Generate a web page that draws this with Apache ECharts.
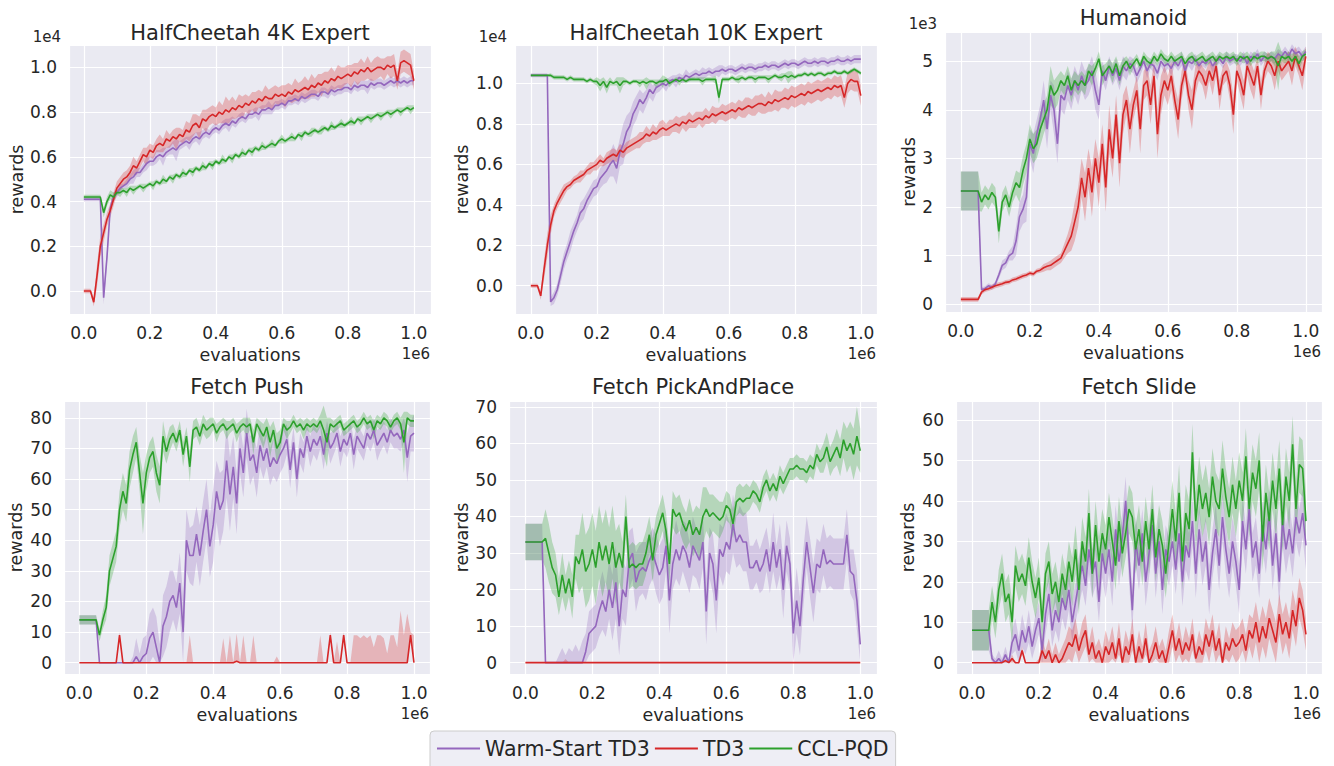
<!DOCTYPE html>
<html>
<head>
<meta charset="utf-8">
<title>Warm-Start TD3 / TD3 / CCL-PQD</title>
<script src="https://cdn.jsdelivr.net/npm/echarts@6.0.0/dist/echarts.min.js"></script>
<style>
  html, body { margin: 0; padding: 0; background: #fff; }
  #chart { width: 1334px; height: 766px; }
</style>
</head>
<body>
<div id="chart"></div>
<script>
// evaluation steps, in units of 1e6
var evals = [
  0, .01, .02, .03, .04, .05, .06, .07, .08, .09,
  .10, .11, .12, .13, .14, .15, .16, .17, .18, .19,
  .20, .21, .22, .23, .24, .25, .26, .27, .28, .29,
  .30, .31, .32, .33, .34, .35, .36, .37, .38, .39,
  .40, .41, .42, .43, .44, .45, .46, .47, .48, .49,
  .50, .51, .52, .53, .54, .55, .56, .57, .58, .59,
  .60, .61, .62, .63, .64, .65, .66, .67, .68, .69,
  .70, .71, .72, .73, .74, .75, .76, .77, .78, .79,
  .80, .81, .82, .83, .84, .85, .86, .87, .88, .89,
  .90, .91, .92, .93, .94, .95, .96, .97, .98, .99,
  1.0
];

// HalfCheetah 4K Expert (x 1e4) - mean and half band width
var hc4Warm = [
  .41,.41,.41,.41,.41,.41,-.03,.15,.37,.42,
  .44,.46,.47,.48,.50,.51,.53,.53,.55,.57,
  .58,.58,.60,.61,.60,.62,.63,.64,.63,.65,
  .66,.67,.66,.68,.69,.68,.70,.71,.70,.72,
  .73,.72,.74,.75,.74,.76,.75,.77,.78,.77,
  .79,.79,.80,.79,.81,.81,.82,.81,.83,.83,
  .84,.83,.85,.85,.86,.85,.87,.86,.87,.88,
  .88,.87,.89,.89,.88,.90,.89,.90,.90,.91,
  .91,.90,.92,.91,.92,.92,.91,.93,.92,.93,
  .93,.92,.93,.94,.93,.94,.93,.94,.93,.94,
  .94];
var hc4WarmSd = [
  .01,.01,.01,.01,.01,.01,.03,.03,.02,.02,
  .02,.02,.01,.02,.02,.03,.02,.02,.02,.03,
  .02,.02,.03,.02,.04,.02,.02,.03,.05,.02,
  .02,.02,.03,.02,.02,.03,.02,.02,.02,.02,
  .02,.02,.02,.02,.03,.02,.02,.02,.02,.02,
  .02,.02,.02,.03,.02,.02,.03,.02,.02,.02,
  .02,.02,.02,.02,.02,.02,.02,.02,.02,.02,
  .02,.02,.02,.02,.02,.02,.02,.02,.02,.02,
  .02,.02,.02,.02,.02,.02,.03,.02,.02,.02,
  .02,.02,.02,.02,.02,.02,.02,.02,.02,.02,
  .02];
var hc4Td3 = [
  0,0,0,-.05,.07,.20,.26,.32,.36,.41,
  .46,.48,.50,.51,.53,.56,.55,.58,.61,.60,
  .63,.62,.65,.66,.65,.68,.67,.69,.68,.70,
  .69,.72,.71,.74,.75,.73,.77,.76,.78,.79,
  .78,.80,.79,.81,.80,.82,.81,.83,.82,.84,
  .83,.85,.84,.86,.85,.87,.86,.86,.88,.87,
  .88,.87,.89,.88,.90,.89,.90,.91,.90,.92,
  .91,.93,.92,.94,.93,.95,.94,.96,.95,.96,
  .97,.96,.98,.97,.99,.98,1.0,.98,.99,1.0,
  1.0,.99,1.01,1.0,1.01,.94,1.02,1.03,1.02,1.01,
  .94];
var hc4Td3Sd = [
  .01,.01,.01,.02,.05,.05,.04,.03,.03,.03,
  .03,.03,.03,.03,.03,.04,.03,.03,.03,.04,
  .03,.03,.03,.04,.03,.04,.03,.03,.05,.03,
  .03,.04,.04,.05,.04,.05,.04,.05,.04,.04,
  .04,.05,.04,.06,.05,.05,.04,.05,.05,.04,
  .04,.04,.05,.04,.04,.05,.04,.05,.04,.04,
  .04,.05,.04,.04,.05,.04,.04,.05,.04,.05,
  .04,.04,.05,.04,.05,.05,.04,.05,.05,.04,
  .04,.05,.04,.05,.05,.04,.05,.04,.05,.05,
  .04,.05,.04,.05,.05,.04,.05,.05,.05,.05,
  .04];
var hc4Ccl = [
  .42,.42,.42,.42,.42,.42,.35,.40,.43,.42,
  .44,.44,.45,.44,.46,.45,.46,.47,.46,.47,
  .48,.47,.49,.48,.50,.49,.51,.50,.52,.51,
  .53,.52,.54,.53,.55,.54,.56,.55,.57,.56,
  .58,.57,.59,.58,.60,.59,.61,.60,.62,.61,
  .63,.62,.64,.63,.65,.64,.65,.66,.65,.67,
  .68,.67,.68,.69,.68,.70,.69,.71,.70,.71,
  .72,.71,.72,.73,.72,.74,.73,.74,.75,.74,
  .75,.76,.75,.77,.76,.77,.78,.77,.78,.79,
  .78,.79,.80,.79,.80,.81,.80,.81,.82,.81,
  .82];
var hc4CclSd = [
  .01,.01,.01,.01,.01,.01,.02,.02,.02,.02,
  .01,.02,.01,.02,.01,.02,.01,.01,.02,.01,
  .01,.02,.01,.01,.02,.01,.01,.02,.01,.01,
  .02,.01,.01,.02,.01,.01,.02,.01,.01,.02,
  .01,.01,.02,.01,.01,.02,.01,.01,.02,.01,
  .01,.02,.01,.01,.02,.01,.01,.02,.01,.01,
  .02,.01,.01,.02,.01,.01,.02,.01,.01,.02,
  .01,.01,.02,.01,.01,.02,.01,.01,.02,.01,
  .01,.02,.01,.01,.02,.01,.01,.02,.01,.01,
  .02,.01,.01,.02,.01,.01,.02,.01,.01,.02,
  .01];

// HalfCheetah 10K Expert (x 1e4)
var hc10Warm = [
  1.04,1.04,1.04,1.04,1.04,1.04,-.08,-.06,-.02,.05,
  .12,.17,.22,.27,.31,.36,.38,.42,.45,.48,
  .49,.53,.55,.57,.60,.62,.58,.66,.70,.76,
  .79,.85,.88,.92,.90,.93,.97,.95,.98,.99,
  1.0,.99,1.01,1.02,1.01,1.03,1.02,1.04,1.03,1.04,
  1.05,1.04,1.05,1.05,1.06,1.05,1.06,1.06,1.07,1.06,
  1.07,1.07,1.06,1.07,1.08,1.07,1.08,1.08,1.07,1.08,
  1.08,1.09,1.08,1.09,1.09,1.08,1.09,1.10,1.09,1.10,
  1.10,1.09,1.10,1.11,1.10,1.10,1.11,1.10,1.11,1.11,
  1.10,1.11,1.11,1.12,1.11,1.11,1.12,1.11,1.12,1.12,
  1.12];
var hc10WarmSd = [
  .01,.01,.01,.01,.01,.01,.02,.03,.03,.04,
  .04,.04,.05,.04,.04,.05,.05,.04,.04,.04,
  .04,.05,.05,.06,.06,.08,.08,.07,.10,.08,
  .07,.06,.06,.05,.05,.04,.04,.04,.03,.03,
  .02,.03,.02,.02,.03,.02,.02,.03,.02,.02,
  .02,.02,.03,.02,.02,.02,.02,.03,.02,.02,
  .02,.02,.02,.02,.02,.02,.02,.02,.02,.02,
  .02,.02,.02,.02,.02,.02,.02,.02,.02,.02,
  .02,.02,.02,.02,.02,.02,.02,.02,.02,.02,
  .02,.02,.02,.02,.02,.02,.02,.02,.02,.02,
  .02];
var hc10Td3 = [
  0,0,0,-.05,.08,.20,.30,.37,.41,.44,
  .47,.49,.50,.52,.53,.54,.55,.57,.58,.59,
  .60,.62,.61,.63,.64,.65,.64,.67,.66,.68,
  .69,.70,.71,.72,.73,.75,.74,.76,.75,.77,
  .78,.77,.78,.79,.80,.79,.81,.80,.82,.81,
  .82,.83,.82,.84,.83,.85,.84,.85,.86,.85,
  .86,.87,.86,.88,.87,.88,.89,.88,.89,.90,
  .90,.89,.91,.90,.92,.91,.92,.93,.92,.94,
  .93,.94,.95,.94,.96,.95,.96,.97,.96,.97,
  .98,.97,.99,.98,.99,.93,1.0,1.02,1.01,1.01,
  .94];
var hc10Td3Sd = [
  .01,.01,.01,.02,.05,.06,.05,.03,.03,.03,
  .03,.02,.02,.02,.02,.03,.02,.02,.03,.02,
  .03,.03,.02,.03,.03,.03,.03,.03,.03,.03,
  .03,.03,.03,.04,.03,.04,.03,.04,.03,.04,
  .04,.03,.04,.03,.04,.04,.03,.04,.04,.03,
  .04,.03,.04,.04,.03,.04,.04,.03,.04,.04,
  .04,.04,.04,.04,.04,.05,.04,.04,.05,.04,
  .05,.04,.05,.04,.05,.05,.04,.05,.05,.05,
  .05,.05,.05,.05,.05,.05,.05,.05,.05,.05,
  .05,.05,.05,.05,.05,.05,.05,.05,.05,.05,
  .05];
var hc10Ccl = [
  1.04,1.04,1.04,1.04,1.04,1.04,1.04,1.03,1.03,1.03,
  1.03,1.02,1.03,1.02,1.02,1.02,1.02,1.01,1.02,1.01,
  1.01,.99,1.01,.98,1.01,1.0,1.01,.99,1.01,1.01,
  1.0,1.01,1.01,1.0,1.01,1.0,1.01,1.01,1.0,1.01,
  1.01,1.02,1.0,1.01,1.02,1.01,1.02,1.01,1.02,1.02,
  1.02,1.02,1.01,1.02,1.02,1.02,1.02,.93,1.02,1.02,
  1.02,1.03,1.02,1.02,1.03,1.02,1.03,1.03,1.02,1.03,
  1.03,1.03,1.02,1.03,1.04,1.03,1.03,1.04,1.03,1.04,
  1.03,1.04,1.04,1.05,1.04,1.05,1.04,1.05,1.05,1.04,
  1.05,1.05,1.06,1.05,1.05,1.06,1.05,1.06,1.07,1.06,
  1.05];
var hc10CclSd = [
  .005,.005,.005,.005,.005,.005,.01,.01,.01,.01,
  .01,.01,.01,.01,.01,.01,.01,.01,.01,.01,
  .02,.03,.02,.03,.02,.01,.02,.04,.02,.01,
  .01,.01,.01,.02,.01,.03,.01,.01,.02,.01,
  .03,.01,.02,.01,.01,.02,.01,.01,.01,.01,
  .01,.01,.02,.01,.01,.01,.02,.03,.01,.01,
  .01,.01,.01,.02,.01,.01,.01,.01,.02,.01,
  .01,.01,.02,.01,.01,.01,.02,.01,.03,.02,
  .01,.01,.01,.01,.01,.01,.01,.01,.01,.01,
  .01,.01,.01,.01,.01,.01,.01,.01,.01,.01,
  .01];

// Humanoid (x 1e3)
var humWarm = [
  2.33,2.33,2.33,2.33,2.33,2.33,.30,.32,.38,.35,
  .42,.60,.80,.85,1.0,1.05,1.3,1.8,1.95,2.2,
  3.3,3.1,3.5,3.8,4.2,3.6,4.3,4.0,3.3,4.3,
  4.2,4.5,4.3,4.6,4.4,4.7,4.5,4.6,4.8,4.4,
  4.1,4.8,4.6,4.9,4.7,4.85,4.6,4.9,4.8,4.95,
  4.9,4.7,4.85,5.0,4.8,4.95,4.9,4.75,5.0,4.9,
  4.95,4.85,5.0,4.9,5.05,4.8,5.0,4.95,5.05,4.9,
  5.0,4.95,5.05,4.9,5.0,5.05,4.95,5.1,5.0,5.05,
  5.05,5.0,5.1,4.95,5.1,5.05,5.15,5.0,5.1,5.05,
  5.1,5.05,5.15,5.1,5.2,5.1,5.25,5.15,5.2,5.1,
  5.2];
var humWarmSd = [
  .4,.4,.4,.4,.4,.4,.05,.05,.05,.05,
  .05,.08,.1,.1,.1,.15,.3,.3,.3,.5,
  .3,.4,.3,.3,.4,.4,.3,.5,.4,.3,
  .3,.3,.3,.3,.3,.3,.3,.3,.3,.4,
  .3,.2,.2,.2,.2,.2,.2,.2,.2,.15,
  .15,.15,.15,.1,.15,.1,.15,.15,.1,.15,
  .1,.15,.1,.1,.15,.1,.1,.15,.1,.1,
  .1,.1,.1,.15,.1,.1,.1,.1,.1,.1,
  .1,.1,.1,.1,.1,.1,.1,.1,.1,.1,
  .1,.1,.1,.1,.1,.1,.1,.1,.1,.1,
  .1];
var humTd3 = [
  .10,.10,.10,.10,.10,.10,.25,.30,.32,.35,
  .38,.40,.42,.45,.46,.50,.52,.55,.58,.60,
  .64,.62,.68,.70,.75,.78,.80,.85,.90,.95,
  1.1,1.25,1.4,1.7,2.0,2.6,2.2,2.8,2.3,3.0,
  2.5,3.3,2.4,3.6,3.0,3.9,2.9,3.9,4.2,3.6,
  4.1,4.4,3.6,4.5,4.6,4.1,4.7,3.5,4.3,4.6,
  4.4,4.7,4.2,3.8,4.5,4.8,4.3,4.0,4.6,4.8,
  4.7,4.5,4.8,4.6,4.9,4.3,4.7,4.8,4.5,3.9,
  4.8,4.6,4.3,4.9,4.7,4.5,4.9,4.3,4.8,5.0,
  4.9,4.7,5.0,4.8,4.9,5.0,4.8,5.1,4.9,4.7,
  5.1];
var humTd3Sd = [
  .05,.05,.05,.05,.05,.05,.05,.05,.05,.05,
  .05,.05,.05,.05,.05,.05,.05,.05,.05,.05,
  .05,.05,.05,.05,.08,.08,.1,.1,.1,.1,
  .15,.2,.3,.4,.4,.4,.5,.4,.5,.4,
  .5,.4,.5,.5,.4,.4,.5,.4,.3,.5,
  .3,.3,.5,.3,.3,.4,.3,.5,.4,.3,
  .3,.3,.3,.4,.3,.2,.3,.4,.3,.2,
  .2,.3,.2,.3,.2,.3,.2,.2,.3,.4,
  .2,.3,.3,.2,.3,.3,.2,.3,.2,.2,
  .2,.3,.2,.2,.2,.2,.3,.2,.2,.3,
  .2];
var humCcl = [
  2.33,2.33,2.33,2.33,2.33,2.33,2.10,2.25,2.15,2.30,
  2.20,1.50,2.10,2.25,2.00,2.30,2.50,2.40,2.75,3.00,
  3.40,3.20,3.30,3.60,3.80,4.00,4.50,4.30,4.40,4.60,
  4.50,4.70,4.40,4.60,4.50,4.60,4.50,4.80,4.70,4.85,
  5.05,4.70,4.80,4.90,4.75,4.95,4.70,4.90,5.00,4.85,
  4.95,5.05,4.90,5.10,5.00,4.95,5.10,5.00,5.15,5.05,
  5.00,5.10,5.00,5.05,5.10,4.95,5.05,5.10,5.00,5.05,
  5.10,5.00,5.05,5.10,5.00,5.10,5.05,5.10,5.05,5.10,
  5.00,5.10,5.05,5.10,5.00,5.10,5.05,5.10,5.10,5.05,
  5.10,5.05,4.90,5.10,5.05,5.10,5.00,5.10,4.95,5.10,
  5.15];
var humCclSd = [
  .4,.4,.4,.4,.4,.4,.2,.2,.2,.2,
  .2,.25,.2,.2,.2,.2,.25,.3,.3,.3,
  .3,.3,.3,.35,.3,.3,.4,.3,.3,.2,
  .2,.2,.25,.2,.2,.2,.2,.15,.2,.15,
  .15,.2,.15,.15,.2,.15,.2,.15,.1,.15,
  .1,.1,.1,.1,.1,.1,.1,.1,.1,.1,
  .1,.1,.1,.1,.1,.1,.1,.1,.1,.1,
  .1,.1,.1,.1,.1,.1,.1,.1,.1,.1,
  .1,.1,.1,.1,.1,.1,.1,.1,.1,.1,
  .1,.15,.5,.1,.1,.1,.15,.1,.15,.1,
  .1];

// Fetch Push
var pushWarm = [
  14,14,14,14,14,14,0,0,0,0,
  0,0,0,0,0,0,0,2,0,2,
  3,8,10,5,0,12,15,20,22,18,
  26,10,40,35,35,42,35,43,50,38,
  45,56,50,53,66,55,64,52,70,62,
  75,66,68,62,71,66,70,64,67,65,
  68,70,73,63,72,60,70,67,74,69,
  73,71,74,68,75,70,72,75,69,73,
  71,75,68,74,72,70,75,73,76,71,
  73,75,72,76,74,75,73,76,67,74,
  75];
var pushWarmSd = [
  1.5,1.5,1.5,1.5,1.5,1.5,0,0,0,0,
  0,0,0,0,0,0,2,6,3,6,
  6,8,8,10,6,10,10,10,8,8,
  10,12,10,9,10,9,10,10,10,10,
  12,10,12,10,12,12,10,10,8,8,
  8,8,7,8,7,6,6,6,6,6,
  6,6,5,6,5,6,5,5,4,5,
  5,5,4,5,4,5,4,4,5,4,
  4,4,5,4,4,4,4,4,4,5,
  4,4,4,4,4,5,4,4,8,5,
  6];
var pushTd3 = [
  0,0,0,0,0,0,0,0,0,0,
  0,0,9,0,0,0,0,0,0,0,
  0,0,0,0,0,0,0,0,0,0,
  0,0,0,0,0,0,0,0,0,0,
  0,0,0,0,0,0,0,.5,0,0,
  0,0,0,0,0,0,0,0,0,0,
  0,0,0,0,0,0,0,0,0,0,
  0,0,0,0,0,9,0,0,0,9,
  0,0,0,0,0,0,0,0,0,0,
  0,0,0,0,0,0,0,0,0,9,
  0];
var pushTd3Sd = [
  0,0,0,0,0,0,0,0,0,0,
  0,0,1,0,0,0,0,0,0,0,
  0,0,0,0,0,0,0,0,0,0,
  0,0,0,9,0,0,0,0,0,0,
  0,0,0,8,0,9,0,9,0,9,
  0,0,9,0,0,0,0,0,0,2,
  0,0,0,0,0,0,0,0,0,0,
  0,0,9,0,0,1,0,7,0,1,
  0,0,9,9,8,9,8,9,5,9,
  9,8,3,9,9,5,17,9,16,1,
  9];
var pushCcl = [
  14,14,14,14,14,14,9,14,18,30,
  34,38,50,56,52,63,68,72,62,52,
  62,67,69,62,58,74,69,73,75,72,
  76,68,74,64,76,77,74,78,76,77,
  78,75,77,78,76,77,78,75,77,78,
  77,78,72,78,76,74,77,72,76,70,
  72,78,76,77,79,77,78,76,78,77,
  78,77,79,76,72,78,77,78,79,76,
  77,78,79,77,78,80,78,79,76,79,
  78,80,79,77,79,80,78,72,80,79,
  79];
var pushCclSd = [
  1.5,1.5,1.5,1.5,1.5,1.5,2,3,4,5,
  5,5,6,6,6,6,6,5,6,10,
  6,5,5,6,6,5,4,4,3,3,
  3,4,3,5,3,3,3,3,3,3,
  2,3,2,2,3,2,2,3,2,2,
  3,2,4,2,3,4,3,5,3,5,
  4,2,3,2,2,2,2,3,2,2,
  2,2,2,8,8,2,2,2,2,2,
  2,2,2,2,2,2,2,2,3,2,
  2,2,2,2,2,2,2,10,2,2,
  2];

// Fetch PickAndPlace
var pickWarm = [
  33,33,33,33,33,33,0,0,0,0,
  0,0,0,0,0,0,0,0,3,8,
  9,10,14,17,14,20,15,22,10,20,
  18,28,30,22,25,26,25,28,30,27,
  24,26,32,17,27,31,28,32,30,26,
  32,30,28,33,14,30,27,17,31,29,
  33,31,38,33,35,33,33,26,26,28,
  25,27,31,25,33,26,31,20,32,27,
  8,17,10,23,33,26,19,27,26,31,
  27,28,27,27,27,27,35,25,24,17,
  5];
var pickWarmSd = [
  5,5,5,5,5,5,0,0,0,0,
  2,4,2,4,3,5,3,6,5,6,
  6,6,7,8,7,8,9,10,8,8,
  8,8,7,8,7,7,8,7,7,8,
  8,8,7,9,7,8,7,7,8,7,
  8,7,8,7,9,7,8,9,7,8,
  8,7,8,7,8,8,8,6,6,6,
  6,7,6,6,8,6,7,8,7,7,
  8,9,8,8,7,8,8,7,7,7,
  7,7,7,7,7,7,7,6,7,8,
  5];
var pickTd3 = [
  0,0,0,0,0,0,0,0,0,0,
  0,0,0,0,0,0,0,0,0,0,
  0,0,0,0,0,0,0,0,0,0,
  0,0,0,0,0,0,0,0,0,0,
  0,0,0,0,0,0,0,0,0,0,
  0,0,0,0,0,0,0,0,0,0,
  0,0,0,0,0,0,0,0,0,0,
  0,0,0,0,0,0,0,0,0,0,
  0,0,0,0,0,0,0,0,0,0,
  0,0,0,0,0,0,0,0,0,0,
  0];
var pickTd3Sd = [
  0,0,0,0,0,0,0,0,0,0,
  0,0,1,0,0,0,0,0,0,0,
  0,0,0,0,0,0,0,0,0,0,
  0,0,0,0,0,0,0,0,0,0,
  0,0,0,0,0,0,0,0,0,0,
  0,0,0,0,0,0,0,0,0,0,
  0,0,0,0,0,0,0,0,0,0,
  0,0,0,0,0,0,0,0,0,0,
  0,0,0,0,0,0,0,0,0,0,
  0,0,0,0,0,0,0,0,0,0,
  0];
var pickCcl = [
  33,33,33,33,33,33,34,30,26,24,
  18,24,19,23,18,29,27,31,25,27,
  31,26,33,28,32,27,33,26,30,26,
  40,26,27,26,27,27,30,35,28,35,
  38,41,36,27,42,40,41,38,36,39,
  35,37,35,40,42,40,41,40,39,40,
  43,42,38,44,45,44,45,45,47,46,
  44,48,50,47,49,47,51,49,51,53,
  53,54,53,53,52,54,53,57,55,56,
  59,55,57,59,56,61,58,60,57,62,
  58];
var pickCclSd = [
  5,5,5,5,5,5,8,8,7,6,
  5,6,5,5,6,6,8,10,10,10,
  10,10,10,10,10,10,10,10,8,7,
  6,6,6,6,6,6,6,5,6,5,
  5,5,5,5,5,5,5,5,5,6,
  6,6,7,8,6,6,5,5,5,4,
  4,4,4,4,4,4,4,3,3,3,
  3,3,3,3,3,3,3,3,3,3,
  3,3,3,3,3,3,3,3,3,4,
  4,4,4,5,5,5,6,6,7,8,
  6];

// Fetch Slide
var slideWarm = [
  8,8,8,8,8,8,1,0,1,0,
  2,0,5,7,3,8,5,9,4,8,
  11,3,12,17,8,13,10,16,13,18,
  10,15,20,24,19,28,22,25,15,27,
  22,28,20,33,25,31,40,26,13,30,
  24,32,20,27,34,22,30,18,28,25,
  30,23,32,20,29,26,35,22,33,25,
  30,18,27,33,24,36,28,22,30,25,
  18,35,28,38,26,30,22,34,28,37,
  24,32,20,35,28,33,27,36,32,37,
  29];
var slideWarmSd = [
  5,5,5,5,5,5,1,1,2,1,
  2,1,3,4,3,4,3,4,3,4,
  4,3,5,5,4,5,5,5,5,5,
  5,5,6,6,5,6,6,6,5,6,
  6,6,6,6,6,6,6,6,5,6,
  6,6,6,6,6,6,6,6,6,6,
  6,6,6,6,6,6,6,6,6,6,
  6,6,6,6,6,6,6,6,6,6,
  6,6,6,6,6,6,6,6,6,6,
  6,6,6,6,6,6,6,6,6,6,
  6];
var slideTd3 = [
  0,0,0,0,0,0,0,0,0,0,
  .5,0,1,0,0,3,0,0,0,0,
  0,3,1,3,0,2,0,1,3,5,
  4,7,3,6,8,2,5,1,3,0,
  4,2,5,1,6,0,4,2,7,0,
  4,1,6,0,2,5,1,3,0,4,
  8,3,6,2,5,3,7,1,4,2,
  7,4,8,3,6,0,5,3,6,4,
  5,7,3,8,6,10,5,9,6,11,
  8,5,12,7,10,6,13,9,16,13,
  7];
var slideTd3Sd = [
  0,0,0,0,0,0,0,0,0,0,
  .5,0,1,0,0,1,0,0,0,0,
  1,3,2,3,2,3,2,3,3,4,
  4,4,3,4,4,3,4,3,3,3,
  4,3,4,3,4,3,4,3,4,3,
  4,3,4,3,3,4,3,3,3,4,
  4,3,4,3,4,3,4,3,4,3,
  4,4,4,3,4,3,4,3,4,4,
  4,4,4,4,5,5,5,5,5,5,
  5,5,5,5,5,5,5,5,5,5,
  4];
var slideCcl = [
  8,8,8,8,8,8,15,10,18,22,
  15,17,10,24,20,22,19,26,20,16,
  21,10,22,25,17,20,15,22,18,25,
  20,28,18,30,25,37,22,34,25,32,
  28,36,30,24,35,27,32,38,36,28,
  33,25,35,28,38,26,33,29,22,30,
  38,30,42,25,37,33,52,35,44,38,
  42,36,46,40,38,48,41,36,44,38,
  45,40,51,38,47,43,50,30,42,35,
  45,38,48,34,46,40,54,38,49,48,
  35];
var slideCclSd = [
  5,5,5,5,5,5,4,4,5,5,
  5,5,5,5,5,5,5,5,5,5,
  5,5,5,5,5,5,5,5,5,5,
  6,6,6,6,6,6,6,6,6,6,
  6,6,6,6,6,6,6,6,6,6,
  6,6,6,6,6,6,6,6,6,6,
  7,7,7,7,7,7,7,7,7,7,
  7,7,7,7,7,7,7,7,7,7,
  7,7,7,7,7,7,7,7,7,7,
  7,7,7,7,7,7,7,7,7,7,
  7];

var methodNames = ["Warm-Start TD3", "TD3", "CCL-PQD"];
var methodColors = ["#9467bd", "#d62728", "#2ca02c"];
var bandColors = ["rgba(148,103,189,0.28)", "rgba(214,39,40,0.28)", "rgba(44,160,44,0.28)"];
var textColor = "#262626";
var fontFamily = "DejaVu Sans";

// layout of the six panels
var panels = [
  { title: "HalfCheetah 4K Expert", scale: "1e4", titleY: 33,
    grid: { left: 69, top: 45, width: 362, height: 269 },
    xRange: [-0.045, 1.052], yRange: [-0.103, 1.10], ySplit: 6, yDigits: 1, yNameGap: 43, floor: null,
    runs: [[hc4Warm, hc4WarmSd], [hc4Td3, hc4Td3Sd], [hc4Ccl, hc4CclSd]] },
  { title: "HalfCheetah 10K Expert", scale: "1e4", titleY: 33,
    grid: { left: 515, top: 45, width: 362, height: 269 },
    xRange: [-0.048, 1.049], yRange: [-0.14, 1.19], ySplit: 6, yDigits: 1, yNameGap: 44, floor: null,
    runs: [[hc10Warm, hc10WarmSd], [hc10Td3, hc10Td3Sd], [hc10Ccl, hc10CclSd]] },
  { title: "Humanoid", scale: "1e3", titleY: 18,
    grid: { left: 945, top: 32, width: 377, height: 280 },
    xRange: [-0.046, 1.047], yRange: [-0.16, 5.60], ySplit: 5, yDigits: 0, yNameGap: 27, floor: null,
    runs: [[humWarm, humWarmSd], [humTd3, humTd3Sd], [humCcl, humCclSd]] },
  { title: "Fetch Push", scale: null, titleY: 387,
    grid: { left: 64, top: 401, width: 366, height: 273 },
    xRange: [-0.046, 1.048], yRange: [-3.7, 85.5], ySplit: 8, yDigits: 0, yNameGap: 39, floor: 0,
    runs: [[pushWarm, pushWarmSd], [pushTd3, pushTd3Sd], [pushCcl, pushCclSd]] },
  { title: "Fetch PickAndPlace", scale: null, titleY: 387,
    grid: { left: 509, top: 401, width: 368, height: 273 },
    xRange: [-0.049, 1.05], yRange: [-3.1, 71.6], ySplit: 7, yDigits: 0, yNameGap: 38, floor: 0,
    runs: [[pickWarm, pickWarmSd], [pickTd3, pickTd3Sd], [pickCcl, pickCclSd]] },
  { title: "Fetch Slide", scale: null, titleY: 387,
    grid: { left: 956, top: 401, width: 366, height: 273 },
    xRange: [-0.048, 1.048], yRange: [-2.8, 64.7], ySplit: 7, yDigits: 0, yNameGap: 39, floor: 0,
    runs: [[slideWarm, slideWarmSd], [slideTd3, slideTd3Sd], [slideCcl, slideCclSd]] }
];

var option = {
  animation: false,
  backgroundColor: "#ffffff",
  textStyle: { fontFamily: fontFamily, color: textColor },
  title: [],
  grid: [],
  xAxis: [],
  yAxis: [],
  series: [],
  graphic: [],
  legend: {
    data: methodNames,
    left: 430,
    top: 731,
    orient: "horizontal",
    padding: [7, 7, 14, 7],
    itemGap: 5,
    itemWidth: 43,
    itemHeight: 2,
    icon: "rect",
    backgroundColor: "rgba(234,234,242,0.8)",
    borderColor: "#cccccc",
    borderWidth: 1,
    borderRadius: 4,
    textStyle: { fontSize: 20.5, color: textColor, fontFamily: fontFamily }
  }
};

// confidence band drawn as one polygon through the axis scales
function bandRenderer(rows, fill) {
  return function (params, api) {
    if (params.dataIndex !== 0) return null;
    var pts = [], i;
    for (i = 0; i < rows.length; i++) pts.push(api.coord([rows[i][0], rows[i][2]]));
    for (i = rows.length - 1; i >= 0; i--) pts.push(api.coord([rows[i][0], rows[i][1]]));
    return { type: "polygon", shape: { points: pts }, style: { fill: fill, stroke: null } };
  };
}

panels.forEach(function (p, idx) {
  var g = p.grid;
  option.grid.push({
    left: g.left, top: g.top, width: g.width, height: g.height,
    show: true, backgroundColor: "#EAEAF2", borderWidth: 0
  });
  option.title.push({
    text: p.title,
    left: g.left + g.width / 2,
    top: p.titleY - 11,
    textAlign: "center",
    padding: 0,
    textStyle: { fontSize: 21, fontWeight: "normal", color: textColor, fontFamily: fontFamily }
  });
  option.xAxis.push({
    type: "value", gridIndex: idx,
    min: p.xRange[0], max: p.xRange[1], splitNumber: 5,
    axisLine: { show: false }, axisTick: { show: false },
    splitLine: { show: true, lineStyle: { color: "#ffffff", width: 1.2 } },
    axisLabel: {
      fontSize: 17, color: textColor, margin: 10,
      showMinLabel: false, showMaxLabel: false,
      formatter: function (v) { return v.toFixed(1); }
    },
    name: "evaluations", nameLocation: "middle", nameGap: 32,
    nameTextStyle: { fontSize: 17.5, color: textColor }
  });
  option.yAxis.push({
    type: "value", gridIndex: idx,
    min: p.yRange[0], max: p.yRange[1], splitNumber: p.ySplit,
    axisLine: { show: false }, axisTick: { show: false },
    splitLine: { show: true, lineStyle: { color: "#ffffff", width: 1.2 } },
    axisLabel: {
      fontSize: 17, color: textColor, margin: 12,
      showMinLabel: false, showMaxLabel: false,
      formatter: function (v) { return v.toFixed(p.yDigits); }
    },
    name: "rewards", nameLocation: "middle", nameGap: p.yNameGap,
    nameTextStyle: { fontSize: 17.5, color: textColor }
  });

  // scale factor texts like matplotlib's offset labels
  option.graphic.push({
    type: "text", x: g.left + g.width - 1, y: g.top + g.height + 40,
    style: { text: "1e6", fill: textColor, font: '15px "DejaVu Sans"', align: "right", verticalAlign: "middle" }
  });
  if (p.scale) {
    option.graphic.push({
      type: "text", x: g.left - 8, y: g.top - 8,
      style: { text: p.scale, fill: textColor, font: '15px "DejaVu Sans"', align: "right", verticalAlign: "middle" }
    });
  }

  p.runs.forEach(function (run, k) {
    var mean = run[0], sd = run[1];
    var rows = [], line = [];
    for (var i = 0; i < evals.length; i++) {
      var lo = mean[i] - sd[i];
      if (p.floor !== null && lo < p.floor) lo = p.floor;
      rows.push([evals[i], lo, mean[i] + sd[i]]);
      line.push([evals[i], mean[i]]);
    }
    option.series.push({
      type: "custom", xAxisIndex: idx, yAxisIndex: idx, silent: true,
      data: rows, encode: { x: 0, y: [1, 2] },
      renderItem: bandRenderer(rows, bandColors[k])
    });
    option.series.push({
      name: methodNames[k],
      type: "line", xAxisIndex: idx, yAxisIndex: idx, data: line,
      symbol: "none", showSymbol: false, silent: true,
      lineStyle: { color: methodColors[k], width: 1.6 },
      itemStyle: { color: methodColors[k] }
    });
  });
});

var chart = echarts.init(document.getElementById("chart"), null, { renderer: "svg" });
chart.setOption(option);
</script>
</body>
</html>
